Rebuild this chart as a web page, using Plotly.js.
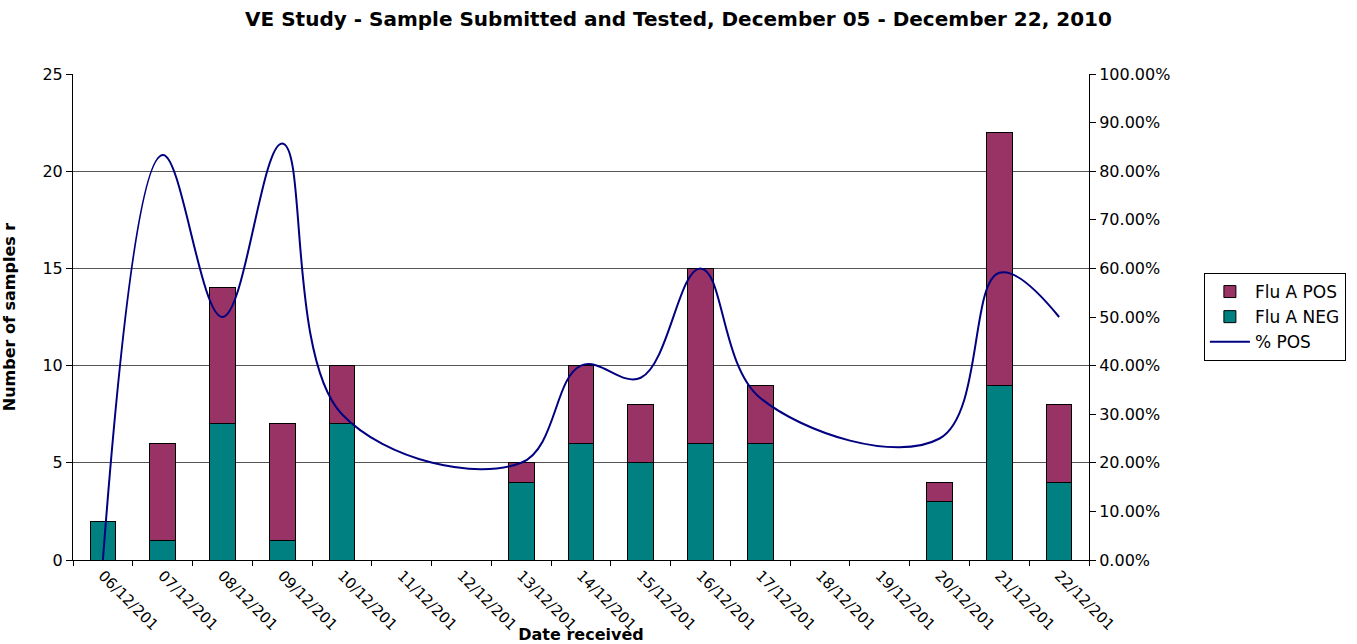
<!DOCTYPE html>
<html><head><meta charset="utf-8">
<script src="https://cdn.plot.ly/plotly-3.0.1.min.js"></script>
<style>html,body{margin:0;padding:0;background:#fff}#chart{width:1357px;height:644px}</style>
</head><body><div id="chart"></div>
<script>
const dates = ["06/12/2010","07/12/2010","08/12/2010","09/12/2010","10/12/2010","11/12/2010","12/12/2010","13/12/2010","14/12/2010","15/12/2010","16/12/2010","17/12/2010","18/12/2010","19/12/2010","20/12/2010","21/12/2010","22/12/2010"];
const tickLabels = ["06/12/201","07/12/201","08/12/201","09/12/201","10/12/201","11/12/201","12/12/201","13/12/201","14/12/201","15/12/201","16/12/201","17/12/201","18/12/201","19/12/201","20/12/201","21/12/201","22/12/201"];
const fluNeg = [2,1,7,1,7,null,null,4,6,5,6,6,null,null,3,9,4];
const fluPos = [0,5,7,6,3,null,null,1,4,3,9,3,null,null,1,13,4];
const pctPos = [0,0.8333,0.5,0.8571,0.3,null,null,0.2,0.4,0.375,0.6,0.3333,null,null,0.25,0.5909,0.5];

const FONT = "DejaVu Sans, Liberation Sans, Arial, sans-serif";
const traces = [
  {type:'bar', name:'Flu A NEG', x:dates, y:fluNeg, width:0.43, legendrank:2,
   marker:{color:'#008080', line:{color:'#000', width:1}}},
  {type:'bar', name:'Flu A POS', x:dates, y:fluPos, width:0.43, legendrank:1,
   marker:{color:'#993366', line:{color:'#000', width:1}}},
  {type:'scatter', mode:'lines', name:'% POS', x:dates, y:pctPos, yaxis:'y2', legendrank:3,
   connectgaps:true, line:{color:'#000080', width:2, shape:'spline', smoothing:1.1}}
];
const layout = {
  width:1357, height:644, paper_bgcolor:'#fff', plot_bgcolor:'#fff',
  margin:{l:73, r:267, t:74, b:84},
  barmode:'stack', showlegend:true,
  font:{family:FONT, size:15, color:'#000'},
  title:{text:'<b>VE Study - Sample Submitted and Tested, December 05 - December 22, 2010</b>',
         x:0.5, xref:'container', y:0.97, yref:'container', yanchor:'middle', font:{family:FONT, size:20}},
  xaxis:{type:'category', range:[-0.5,16.5], tickmode:'array', tickvals:dates, ticktext:tickLabels,
         tickangle:45, ticks:'outside', tickson:'boundaries', ticklen:5, tickcolor:'#000',
         showline:true, linecolor:'#000', linewidth:1, showgrid:false, zeroline:false,
         tickfont:{family:FONT, size:15},
         title:{text:'<b>Date received</b>', font:{family:FONT, size:16}, standoff:0}},
  yaxis:{range:[0,25], dtick:5, ticks:'outside', ticklen:6, tickcolor:'#000',
         showline:true, linecolor:'#000', linewidth:1, showgrid:true, gridcolor:'#555', gridwidth:1,
         zeroline:false, tickfont:{family:FONT, size:16},
         title:{text:'<b>Number of samples r</b>', font:{family:FONT, size:16}, standoff:26}},
  yaxis2:{overlaying:'y', side:'right', range:[0,1], dtick:0.1, tickformat:'.2%',
          ticks:'outside', ticklen:6, tickcolor:'#000', showline:true, linecolor:'#000', linewidth:1,
          showgrid:false, zeroline:false, tickfont:{family:FONT, size:16}},
  legend:{x:1.112, xanchor:'left', y:0.5, yanchor:'middle', traceorder:'normal',
          bordercolor:'#000', borderwidth:1, bgcolor:'#fff', font:{family:FONT, size:17},
          itemwidth:40, tracegroupgap:0}
};
Plotly.newPlot('chart', traces, layout, {displayModeBar:false, staticPlot:true});
</script></body></html>
